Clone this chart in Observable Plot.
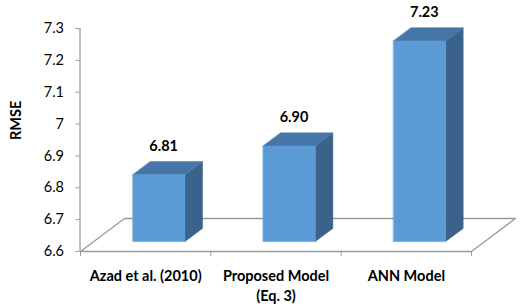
<!DOCTYPE html>
<html>
<head>
<meta charset="utf-8">
<script src="https://cdn.jsdelivr.net/npm/d3@7"></script>
<script src="https://cdn.jsdelivr.net/npm/@observablehq/plot@0.6"></script>
<style>
  html, body { margin: 0; padding: 0; background: #fff; }
  #chart svg { display: block; }
</style>
</head>
<body>
<div id="chart"></div>
<script>
// ---- data ----
const categories = ["Azad et al. (2010)", "Proposed Model\n(Eq. 3)", "ANN Model"];
const rmse = [6.81, 6.90, 7.23];
const valueLabels = ["6.81", "6.90", "7.23"];
const yTicks = [6.6, 6.7, 6.8, 6.9, 7, 7.1, 7.2, 7.3];
const yTickLabels = ["6.6", "6.7", "6.8", "6.9", "7", "7.1", "7.2", "7.3"];
const yDomain = [6.6, 7.3];
const yTitle = "RMSE";

// ---- layout / style ----
const W = 525, H = 308;
const mL = 80, mR = 54, mT = 28, mB = 57;
const kx = (W - mL - mR) / categories.length;     // px per category band
const ky = (H - mB - mT) / (yDomain[1] - yDomain[0]); // px per RMSE unit
const depthPx = [44, -33];                          // floor depth offset (px)
const DXu = depthPx[0] / kx, DYu = -depthPx[1] / ky;
const barLo = 0.3, barHi = 0.7;                     // bar within band
const dFront = 0.3, dBack = 0.7;                    // bar within depth
const base = yDomain[0];
const P = (x, y, t, key) => ({x: x + t * DXu, y: y + t * DYu, key});

const colFront = "#5b9bd5", colSide = "#3a628b", colTop = "#4676a8";
const gray = "#9a9a9a";

// ---- faces built from the data ----
const frontFaces = [], sideFaces = [], topFaces = [];
categories.forEach((c, i) => {
  const v = rmse[i];
  frontFaces.push(P(i + barLo, base, dFront, c), P(i + barHi, base, dFront, c),
                  P(i + barHi, v, dFront, c), P(i + barLo, v, dFront, c));
  sideFaces.push(P(i + barHi, base, dFront, c), P(i + barHi, base, dBack, c),
                 P(i + barHi, v, dBack, c), P(i + barHi, v, dFront, c));
  topFaces.push(P(i + barLo, v, dFront, c), P(i + barHi, v, dFront, c),
                P(i + barHi, v, dBack, c), P(i + barLo, v, dBack, c));
});
const n = categories.length;
const floorPoly = [P(0, base, 0, "floor"), P(n, base, 0, "floor"), P(n, base, 1, "floor"), P(0, base, 1, "floor")];
const labelRows = categories.map((c, i) => ({x: i + 0.5, y: base, text: c}));
const valueRows = rmse.map((v, i) => ({x: i + 0.5, y: v, text: valueLabels[i]}));

const chart = Plot.plot({
  width: W, height: H,
  marginLeft: mL, marginRight: mR, marginTop: mT, marginBottom: mB,
  x: {domain: [0, n]},
  y: {domain: yDomain},
  style: {fontFamily: "Lato, 'Open Sans', sans-serif", fontSize: "14.5px", color: "#000", background: "#fff", overflow: "visible"},
  marks: [
    // floor
    Plot.line(floorPoly, {x: "x", y: "y", curve: "linear-closed", stroke: gray, strokeWidth: 1.3}),
    // y axis line
    Plot.ruleX([0], {y1: yDomain[0], y2: yDomain[1], stroke: gray, strokeWidth: 1.3, dx: -0.5}),
    Plot.axisY(yTicks, {
      tickSize: 4, tickPadding: 12, stroke: gray, fill: "#000",
      tickFormat: d => yTickLabels[yTicks.indexOf(d)], label: null, fontSize: 14.5, dx: -0.5
    }),
    Plot.axisX(d3.range(n + 1), {tickSize: 5, stroke: gray, tickFormat: () => "", label: null}),
    // bars
    Plot.line(sideFaces, {x: "x", y: "y", z: "key", curve: "linear-closed", fill: colSide, stroke: colSide, strokeWidth: 0.5}),
    Plot.line(topFaces, {x: "x", y: "y", z: "key", curve: "linear-closed", fill: colTop, stroke: colTop, strokeWidth: 0.5}),
    Plot.line(frontFaces, {x: "x", y: "y", z: "key", curve: "linear-closed", fill: colFront, stroke: colFront, strokeWidth: 0.5}),
    // value labels
    Plot.text(valueRows, {x: "x", y: "y", text: "text", dx: 18, dy: -38.5, fontWeight: "bold", fontSize: 14.5, fill: "#000"}),
    // category labels
    Plot.text(labelRows, {x: "x", y: "y", text: "text", lineAnchor: "top", dy: 15.5, lineHeight: 1.38, fontWeight: "bold", fontSize: 14.5, fill: "#000"}),
    // y title
    Plot.text([yTitle], {frameAnchor: "left", text: d => d, rotate: -90, dx: -64, fontWeight: "bold", fontSize: 14.5, fill: "#000"})
  ]
});
document.getElementById("chart").appendChild(chart);
</script>
</body>
</html>
